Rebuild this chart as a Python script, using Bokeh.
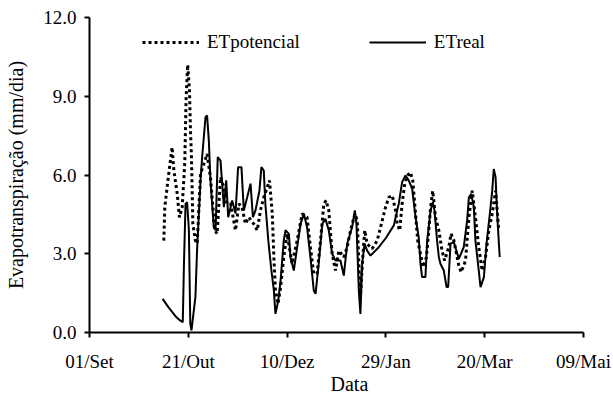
from bokeh.plotting import figure
from bokeh.models import FixedTicker, Legend, Title
from bokeh.embed import file_html
from bokeh.resources import INLINE

# x values: days since 01/Set
tick_days = [0, 50, 100, 150, 200, 250]
tick_labels = ["01/Set", "21/Out", "10/Dez", "29/Jan", "20/Mar", "09/Mai"]
y_ticks = [0, 3, 6, 9, 12]
y_tick_labels = ["0.0", "3.0", "6.0", "9.0", "12.0"]

etreal_day = [37, 40, 42, 44, 46, 47.2, 47.8, 48.6, 49.4, 50.3, 51, 51.6, 53.6, 54.5, 56.2,
              57.0, 58.7, 59.5, 60.4, 61.2, 62.9, 63.8, 64.9, 66.3, 68, 69.2, 70.2, 72.2,
              73.9, 75.2, 76.9, 78.1, 79.8, 81.5, 82.7, 84, 86, 87, 88.2, 89, 90.5, 92,
              93.3, 94.1, 95.5, 96.7, 98.3, 99.2, 100.9, 101.7, 103.4, 105.1, 106.8, 108.5,
              110.1, 111.8, 113.5, 114.4, 116, 117.8, 119.4, 121.1, 122.8, 124.5, 127,
              128.7, 130.4, 132.9, 134.3, 135.1, 136.3, 137.1, 138, 139.2, 140.5, 142.2,
              146.4, 150, 154, 156.5, 158.2, 159.9, 161.6, 163.3, 165, 166.6, 167.5, 168.3,
              170, 170.9, 172.6, 173.7, 174.6, 175.9, 176.8, 177.6, 179.3, 180.7, 181.5,
              182.7, 184.4, 186.9, 189.4, 191.1, 192, 193.2, 194.5, 195.3, 197, 197.9,
              199.6, 200.9, 202.6, 203.8, 204.6, 205.5, 206.3, 207.6]
etreal_val = [1.28, 0.96, 0.77, 0.58, 0.45, 0.39, 2.6, 4.9, 4.96, 3.9, 0.34, 0.08, 1.35, 3.25, 5.8,
              6.68, 8.2, 8.27, 7.3, 5.8, 4.0, 3.9, 6.68, 6.55, 4.77, 5.8, 4.39, 5.03,
              4.53, 6.3, 6.3, 4.65, 5.15, 5.67, 4.39, 4.65, 5.4, 6.3, 6.17, 4.9, 3.5, 2.4,
              1.6, 0.71, 1.2, 1.98, 3.5, 3.9, 3.76, 2.87, 2.36, 3.25, 4.14, 4.52,
              4.01, 2.87, 1.6, 1.47, 2.62, 4.14, 4.33, 3.89, 3.0, 2.74, 2.74,
              2.17, 3.38, 4.01, 4.65, 4.14, 1.6, 0.71, 2.62, 3.38, 3.12, 2.93,
              3.25, 3.6, 4.08, 4.9, 5.73, 5.98, 5.79, 5.47, 4.39, 3.63, 2.62, 2.11,
              2.11, 3.5, 4.65, 4.96, 4.65, 3.5, 2.87, 2.62, 2.36, 1.73, 1.73,
              3.38, 3.44, 2.81, 3.25, 4.27, 5.15, 5.28, 4.77, 3.5, 2.36, 1.73,
              2.11, 3.38, 4.52, 5.4, 6.23, 5.92, 4.52, 2.87]

etpot_day = [37.6, 38.1, 40.1, 41.8, 42.7, 44.4, 45.5, 46.9, 48.2, 48.9, 49.7, 50.6, 51.1, 51.6,
             52.3, 53.6, 54.5, 56.2, 57.9, 59.5, 61.2, 63.4, 64.6, 66.3, 68, 69.6, 71.4,
             73.9, 75.6, 77.2, 78.9, 80.6, 83.1, 84.9, 86.5, 88.2, 91.1, 92.5, 93.3, 94.1,
             95.4, 96.7, 98.3, 100, 102.5, 105.1, 107.6, 110.1, 111.8, 113.5, 115.2, 116.9,
             118.6, 119.7, 121.1, 122.8, 124.5, 126.2, 128.7, 130.4, 132.1, 134.3, 135.5,
             136.3, 137.1, 138.3, 139.3, 140.5, 143, 145.6, 147.3, 149.8, 151.5, 153.2,
             154.9, 155.7, 157, 158.2, 159.4, 160.8, 162.4, 163.6, 165, 166.1, 167.5,
             168.8, 170.5, 171.7, 172.6, 173.7, 175.1, 176.8, 178.4, 179.7, 181.8, 183,
             184.4, 186.9, 188.1, 190.3, 192, 193.7, 195.3, 197, 198.7, 200.4, 202.1,
             203.8, 205.5, 206.6, 207.1]
etpot_val = [3.5, 4.77, 6.05, 7.06, 6.17, 5.28, 4.39, 4.77, 6.43, 8.96, 10.2, 9.2, 7.7, 6.68,
             4.14, 3.5, 3.38, 6.05, 6.43, 6.8, 5.92, 3.89, 3.76, 5.92, 5.54, 4.9, 4.9,
             3.89, 4.9, 4.77, 4.14, 4.39, 4.14, 3.89, 4.65, 5.15, 5.79, 4.52, 2.87, 1.6,
             1.09, 1.73, 2.87, 3.76, 2.62, 3.5, 4.52, 4.39, 3.25, 2.24, 2.24, 3.5,
             4.9, 5.03, 4.65, 3.0, 2.36, 3.12, 2.87, 3.25, 3.89, 4.52, 4.27,
             2.62, 1.35, 2.87, 3.89, 3.38, 3.19, 3.5, 4.01, 4.77, 5.15, 5.22,
             4.65, 4.14, 3.89, 4.9, 5.6, 5.98, 6.1, 5.79, 4.52, 3.5, 3.0,
             2.49, 2.87, 3.89, 4.77, 5.4, 4.39, 3.89, 3.12, 2.74, 3.25, 3.76,
             3.5, 2.55, 2.3, 2.74, 4.39, 5.4, 4.39, 3.25, 2.36, 2.87, 3.89,
             4.52, 5.4, 4.39, 3.89]

FONT = "Liberation Serif"
FS = "19px"

p = figure(width=613, height=394, output_backend="svg", toolbar_location=None,
           x_range=(0, 250), y_range=(0, 12),
           min_border_left=89, min_border_right=30, min_border_top=17, min_border_bottom=62)
p.outline_line_color = None
p.xgrid.visible = False
p.ygrid.visible = False
p.background_fill_color = "white"
p.border_fill_color = "white"

r1 = p.line(etpot_day, etpot_val, line_color="black", line_width=3, line_dash="3 3")
r2 = p.line(etreal_day, etreal_val, line_color="black", line_width=2)

for ax in (p.xaxis[0], p.yaxis[0]):
    ax.axis_line_color = "black"
    ax.axis_line_width = 2
    ax.major_tick_line_color = "black"
    ax.major_tick_line_width = 2
    ax.major_tick_in = 0
    ax.major_tick_out = 5
    ax.minor_tick_line_color = None
    ax.major_label_text_font = FONT
    ax.major_label_text_font_size = FS
    ax.major_label_text_color = "black"
    ax.axis_label_text_font = FONT
    ax.axis_label_text_font_size = "20px"
    ax.axis_label_text_font_style = "normal"
    ax.axis_label_text_color = "black"

p.xaxis[0].ticker = FixedTicker(ticks=tick_days)
p.xaxis[0].major_label_overrides = {d: l for d, l in zip(tick_days, tick_labels)}
p.xaxis[0].major_label_standoff = 13
p.yaxis[0].ticker = FixedTicker(ticks=y_ticks)
p.yaxis[0].major_label_overrides = {v: l for v, l in zip(y_ticks, y_tick_labels)}
p.yaxis[0].major_label_standoff = 8
p.yaxis[0].axis_label = "Evapotranspiração (mm/dia)"
p.yaxis[0].axis_label_standoff = 13

p.add_layout(Title(text="Data", align="left", offset=241, standoff=-7,
                   text_font=FONT, text_font_size="20px", text_font_style="normal",
                   text_color="black"), "below")

legend = Legend(items=[("ETpotencial", [r1]), ("ETreal", [r2])], orientation="horizontal",
                location=(53, 279), glyph_width=57, glyph_height=20, label_standoff=8,
                spacing=69, padding=0, margin=0, border_line_alpha=0, background_fill_alpha=0,
                label_text_font=FONT, label_text_font_size=FS, label_text_color="black")
p.add_layout(legend)

open("out.html", "w").write(file_html(p, INLINE))
